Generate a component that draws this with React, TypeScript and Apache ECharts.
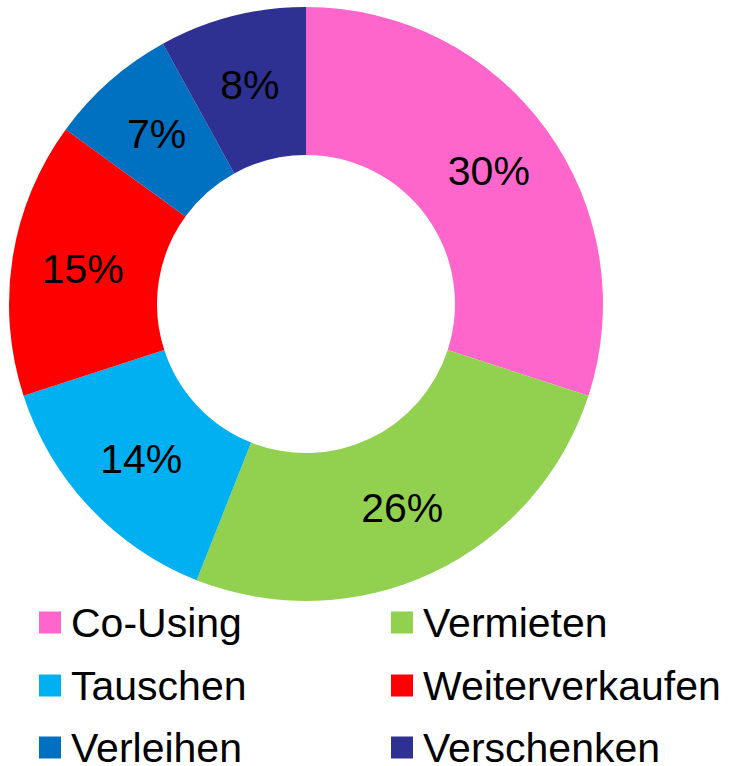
import React, { useEffect, useRef } from "react";
import * as echarts from "echarts";

const categories = ["Co-Using", "Vermieten", "Tauschen", "Weiterverkaufen", "Verleihen", "Verschenken"];
const values = [30, 26, 14, 15, 7, 8];
const colors = ["#FF66CC", "#92D050", "#00B0F0", "#FF0000", "#0070C0", "#2E3192"];
const legendLeft = ["Co-Using", "Tauschen", "Verleihen"];
const legendRight = ["Vermieten", "Weiterverkaufen", "Verschenken"];

export default function App() {
  const ref = useRef<HTMLDivElement>(null);
  useEffect(() => {
    if (!ref.current) return;
    const chart = echarts.init(ref.current, null, { renderer: "svg" });
    const font = "Liberation Sans, Arial, sans-serif";
    const rowTops = [602, 665, 727];
    const makeLegend = (name: string, left: number, top: number) => ({
      orient: "horizontal" as const,
      left,
      top,
      padding: 0,
      itemWidth: 22,
      itemHeight: 22,
      icon: "rect",
      selectedMode: false,
      data: [name],
      textStyle: { fontSize: 41, lineHeight: 30, fontFamily: font, color: "#000", padding: [0, 0, 0, 5] },
    });
    const legends = [
      ...legendLeft.map((n, i) => makeLegend(n, 39, rowTops[i])),
      ...legendRight.map((n, i) => makeLegend(n, 391, rowTops[i])),
    ];
    chart.setOption({
      animation: false,
      color: colors,
      legend: legends,
      series: [
        {
          type: "pie",
          center: [306, 304],
          radius: [149, 297],
          startAngle: 90,
          clockwise: true,
          avoidLabelOverlap: false,
          itemStyle: { borderWidth: 0 },
          label: {
            show: true,
            position: "inside",
            formatter: "{c}%",
            fontSize: 41,
            fontFamily: font,
            color: "#000",
          },
          labelLine: { show: false },
          emphasis: { disabled: true },
          data: categories.map((name, i) => ({ name, value: values[i] })),
        },
      ],
    });
    return () => chart.dispose();
  }, []);
  return (
    <div
      ref={ref}
      style={{ position: "fixed", left: 0, top: 0, width: 739, height: 766, background: "#fff" }}
    />
  );
}
